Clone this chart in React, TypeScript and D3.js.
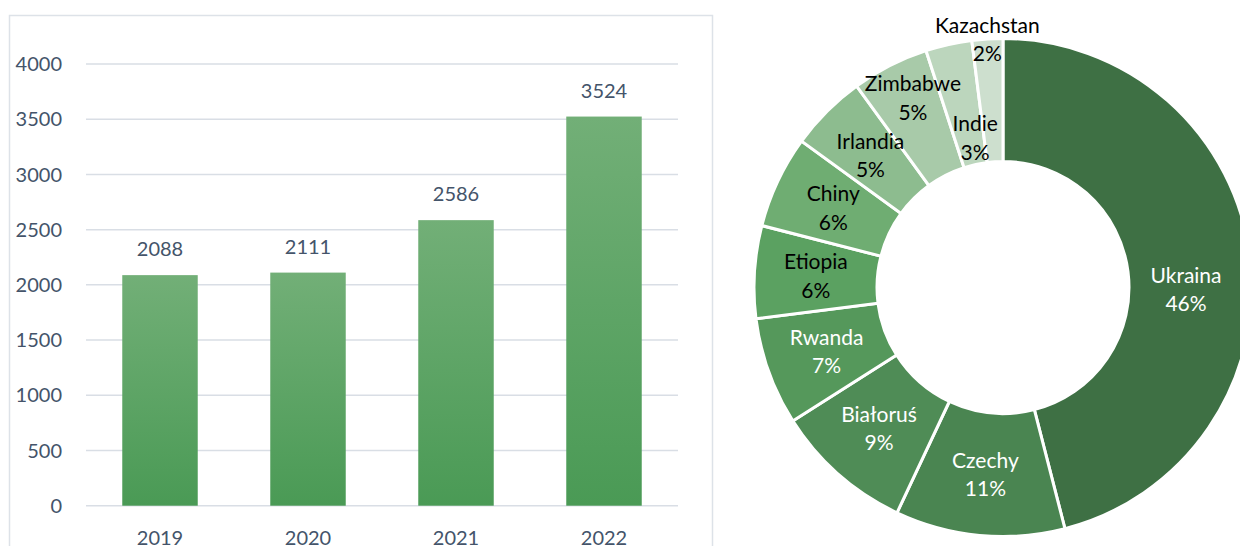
import React from "react";
import * as d3 from "d3";

const years = ["2019", "2020", "2021", "2022"];
const yearValues = [2088, 2111, 2586, 3524];
const yTicks = [0, 500, 1000, 1500, 2000, 2500, 3000, 3500, 4000];

const countries = ["Ukraina", "Czechy", "Białoruś", "Rwanda", "Etiopia", "Chiny", "Irlandia", "Zimbabwe", "Indie", "Kazachstan"];
const shares = [46, 11, 9, 7, 6, 6, 5, 5, 3, 2];
const sliceColors = ["#3e7044", "#4a8551", "#4f8c56", "#55985b", "#5ba161", "#6fad72", "#8dbc8f", "#a8caa9", "#bcd6bd", "#cddfce"];
const labelColors = ["#ffffff", "#ffffff", "#ffffff", "#ffffff", "#000000", "#000000", "#000000", "#000000", "#000000", "#000000"];

// label placement tweaks (layout only, px), mimicking the spreadsheet's "best fit"
const labelNudge: Record<string, [number, number]> = {
  Ukraina: [-3, 25],
  Zimbabwe: [-5, -23],
  Indie: [13, 33],
};

const FONT = "Lato, 'Open Sans', sans-serif";

export default function App() {
  const W = 1240, H = 546;
  // bar chart
  const x = d3.scaleBand().domain(years).range([86, 678]).paddingInner(0.49).paddingOuter(0.245);
  const y = d3.scaleLinear().domain([0, 4000]).range([505.7, 64]);
  const axisColor = "#44546a";

  // donut
  const cx = 1003, cy = 287.5, rOuter = 249, rInner = 126;
  const pie = d3.pie<number>().sort(null).value((d) => d)(shares);
  const arc = d3.arc<d3.PieArcDatum<number>>().innerRadius(rInner).outerRadius(rOuter);
  const total = d3.sum(shares);

  return (
    <div style={{ position: "absolute", left: 0, top: 0 }}>
      <svg width={W} height={H} style={{ display: "block", fontFamily: FONT }}>
        <defs>
          <linearGradient id="barGrad" x1="0" y1="0" x2="0" y2="1">
            <stop offset="0%" stopColor="#72af77" />
            <stop offset="100%" stopColor="#4a9a55" />
          </linearGradient>
        </defs>
        <rect x={0} y={0} width={W} height={H} fill="#fff" />
        {/* left panel border */}
        <path d={`M9.5,${H} V15.5 H712.5 V${H}`} fill="none" stroke="#dde2e8" strokeWidth={1.5} />
        {yTicks.map((t) => (
          <g key={t}>
            <line x1={86} x2={678} y1={y(t)} y2={y(t)} stroke="#d9dee5" strokeWidth={1.5} />
            <text x={62} y={y(t)} dy="0.36em" textAnchor="end" fontSize={20} fill={axisColor}>
              {t}
            </text>
          </g>
        ))}
        {years.map((yr, i) => (
          <g key={yr}>
            <rect
              x={x(yr)!}
              y={y(yearValues[i])}
              width={x.bandwidth()}
              height={y(0) - y(yearValues[i])}
              fill="url(#barGrad)"
            />
            <text
              x={x(yr)! + x.bandwidth() / 2}
              y={y(yearValues[i]) - 19}
              textAnchor="middle"
              fontSize={20}
              fill={axisColor}
            >
              {yearValues[i]}
            </text>
            <text x={x(yr)! + x.bandwidth() / 2} y={545} textAnchor="middle" fontSize={20} fill={axisColor}>
              {yr}
            </text>
          </g>
        ))}

        {/* donut */}
        <g transform={`translate(${cx},${cy})`}>
          {pie.map((p, i) => (
            <path key={i} d={arc(p)!} fill={sliceColors[i]} stroke="#fff" strokeWidth={3} strokeLinejoin="miter" />
          ))}
          {pie.map((p, i) => {
            const a = (p.startAngle + p.endAngle) / 2;
            const r = p.data <= 2 ? rOuter : (rInner + rOuter) / 2;
            const nudge = labelNudge[countries[i]] || [0, 0];
            const lx = Math.sin(a) * r + nudge[0];
            const ly = -Math.cos(a) * r + nudge[1];
            return (
              <text key={"l" + i} x={lx} y={ly} textAnchor="middle" fontSize={21} fill={labelColors[i]}>
                <tspan x={lx} dy="-0.3em">{countries[i]}</tspan>
                <tspan x={lx} dy="1.36em">{Math.round((p.data / total) * 100)}%</tspan>
              </text>
            );
          })}
        </g>
      </svg>
    </div>
  );
}
